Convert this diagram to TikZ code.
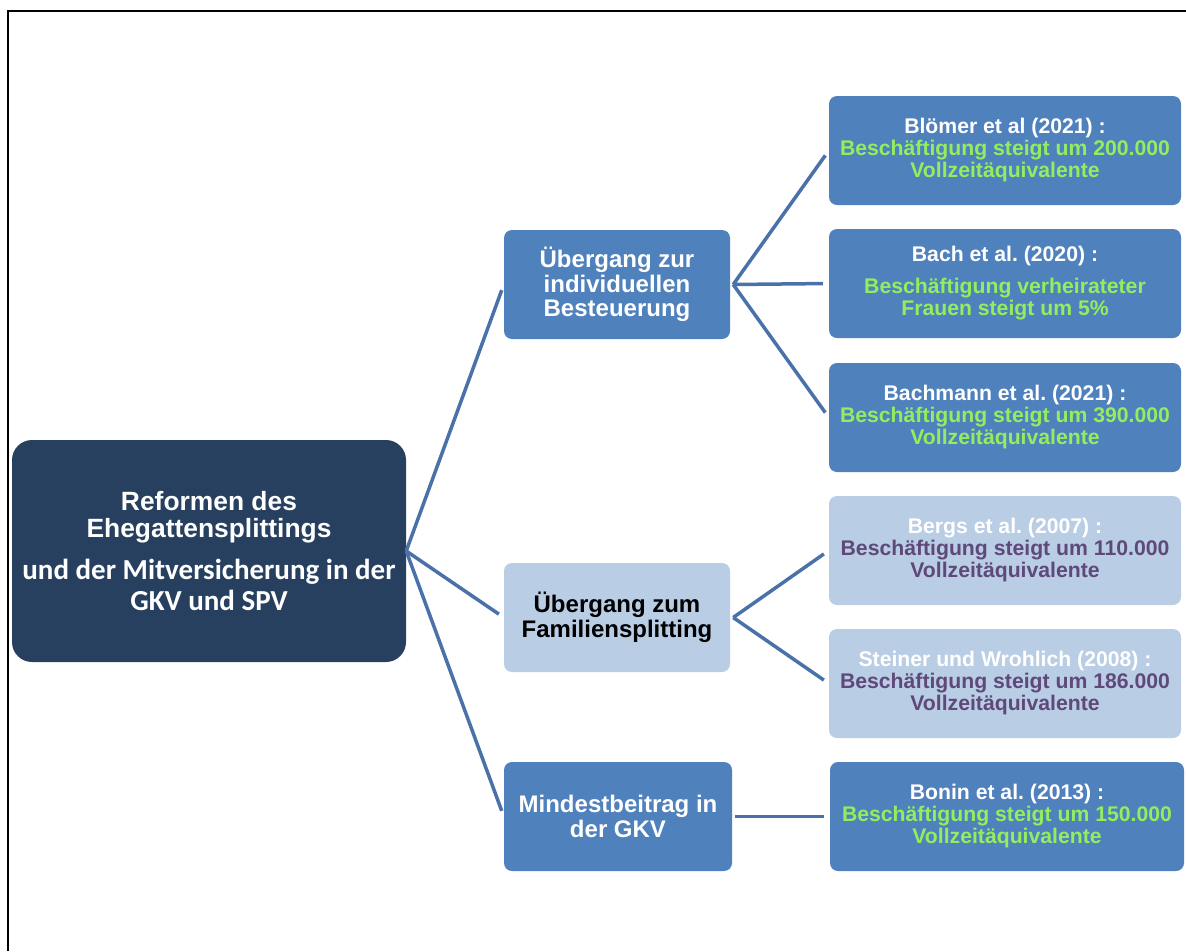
\documentclass[tikz,border=0pt]{standalone}
\usepackage{fontspec}
\setmainfont{Liberation Sans}
\newfontfamily\calibri{Carlito}
\frenchspacing
\definecolor{navy}{HTML}{27405F}
\definecolor{midblue}{HTML}{4F81BD}
\definecolor{paleblue}{HTML}{B9CDE5}
\definecolor{linkblue}{HTML}{4A72A8}
\definecolor{lime}{HTML}{92EE5E}
\definecolor{plum}{HTML}{5F497A}
\tikzset{
  box/.style={rounded corners=8pt, align=center, inner sep=0pt,
    font=\bfseries\fontsize{21.2}{22}\selectfont},
  darkbox/.style={box, fill=midblue, text=white},
  lightbox/.style={box, fill=paleblue},
  midbox/.style={minimum width=226pt, minimum height=109pt,
    font=\bfseries\fontsize{24}{24.5}\selectfont},
  leafbox/.style={minimum width=352pt, minimum height=109pt},
  link/.style={draw=linkblue, line width=3.5pt, shorten >=6pt}
}
\begin{document}
\begin{tikzpicture}[x=1pt,y=-1pt]
  \useasboundingbox (0,0) rectangle (1186,951);
  % frame
  \draw[line width=2.5pt] (8,951) -- (8,11) -- (1186,11);
  % root
  \node[box, fill=navy, text=white, rounded corners=20pt,
    minimum width=394pt, minimum height=222pt,
    font=\bfseries\fontsize{26.4}{27}\selectfont] (root) at (209,551)
    {Reformen des\\
     Ehegattensplittings\\[15pt]
     {\calibri\fontsize{29}{31}\selectfont und der Mitversicherung in der}\\[4pt]
     {\calibri\fontsize{29}{31}\selectfont GKV und SPV}};
  % middle column
  \node[darkbox, midbox] (indiv) at (617,284.5)
    {Übergang zur\\individuellen\\Besteuerung};
  \node[lightbox, midbox] (famsplit) at (617,617.5)
    {Übergang zum\\Familiensplitting};
  \node[darkbox, midbox, minimum width=228pt] (mindest) at (618,816.5)
    {Mindestbeitrag in\\der GKV};
  % studies
  \node[darkbox, leafbox] (bloemer) at (1005,150.5)
    {Blömer et al (2021) :\\\color{lime}Beschäftigung steigt um 200.000\\\color{lime}Vollzeitäquivalente};
  \node[darkbox, leafbox] (bach) at (1005,283.5)
    {Bach et al. (2020) :\\[10pt]\color{lime}Beschäftigung verheirateter\\\color{lime}Frauen steigt um 5\%};
  \node[darkbox, leafbox] (bachmann) at (1005,417.5)
    {Bachmann et al. (2021) :\\\color{lime}Beschäftigung steigt um 390.000\\\color{lime}Vollzeitäquivalente};
  \node[lightbox, leafbox, text=white] (bergs) at (1005,550.5)
    {Bergs et al. (2007) :\\\color{plum}Beschäftigung steigt um 110.000\\\color{plum}Vollzeitäquivalente};
  \node[lightbox, leafbox, text=white] (steiner) at (1005,683.5)
    {Steiner und Wrohlich (2008) :\\\color{plum}Beschäftigung steigt um 186.000\\\color{plum}Vollzeitäquivalente};
  \node[darkbox, leafbox, minimum width=354pt] (bonin) at (1007,816.5)
    {Bonin et al. (2013) :\\\color{lime}Beschäftigung steigt um 150.000\\\color{lime}Vollzeitäquivalente};
  % connectors
  \foreach \t in {indiv,famsplit,mindest}
    \draw[link] (root.east) -- (\t.west);
  \foreach \t in {bloemer,bach,bachmann}
    \draw[link] ([xshift=3pt]indiv.east) -- (\t.west);
  \foreach \t in {bergs,steiner}
    \draw[link] ([xshift=3pt]famsplit.east) -- (\t.west);
  \draw[link] ([xshift=3pt]mindest.east) -- (bonin.west);
\end{tikzpicture}
\end{document}
